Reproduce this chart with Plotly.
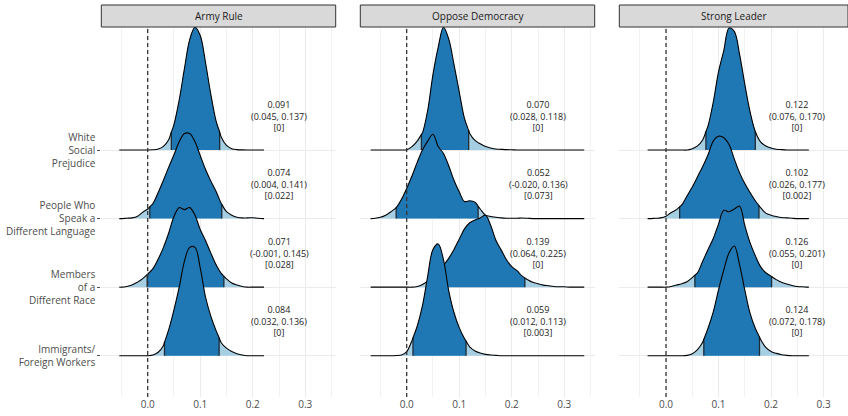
import numpy as np
import plotly.graph_objects as go

# ---------------- data ----------------
PANELS = ["Army Rule", "Oppose Democracy", "Strong Leader"]
CATEGORIES = ["White<br>Social<br>Prejudice",
              "People Who<br>Speak a<br>Different Language",
              "Members<br>of a<br>Different Race",
              "Immigrants/<br>Foreign Workers"]
ROW_POS = [3, 2, 1, 0]
X_TICKS = [0.0, 0.1, 0.2, 0.3]
X_TICK_LABELS = ["0.0", "0.1", "0.2", "0.3"]

# density grids (x) per panel
X_AR = [-0.054, -0.05, -0.04, -0.03, -0.02, -0.01, 0.00, 0.01, 0.02, 0.03, 0.04, 0.05,
        0.06, 0.07, 0.08, 0.09, 0.10, 0.11, 0.12, 0.13, 0.14, 0.15, 0.16, 0.17, 0.18,
        0.19, 0.20, 0.21, 0.22, 0.2215]
X_OD = [-0.0686, -0.06, -0.05, -0.04, -0.03, -0.02, -0.01, 0.00, 0.01, 0.02, 0.03, 0.04,
        0.05, 0.06, 0.07, 0.08, 0.09, 0.10, 0.11, 0.12, 0.13, 0.14, 0.15, 0.16, 0.17,
        0.18, 0.19, 0.20, 0.21, 0.22, 0.23, 0.24, 0.25, 0.26, 0.27, 0.28, 0.29, 0.30,
        0.31, 0.32, 0.33, 0.338]
X_SL = [-0.035, -0.03, -0.02, -0.01, 0.00, 0.01, 0.02, 0.03, 0.04, 0.05, 0.06, 0.07,
        0.08, 0.09, 0.10, 0.11, 0.12, 0.13, 0.14, 0.15, 0.16, 0.17, 0.18, 0.19, 0.20,
        0.21, 0.22, 0.23, 0.24, 0.25, 0.26, 0.27, 0.272]

# Army Rule densities (rows: White, Speak, Members, Immigrants)
AR_WHITE = [0, 0, 0, 0, 0, 0, 0, 0.003, 0.015, 0.054, 0.15, 0.37, 0.73, 1.19, 1.61, 1.79,
            1.67, 1.28, 0.82, 0.43, 0.19, 0.067, 0.02, 0.006, 0.002, 0, 0, 0, 0, 0]
AR_SPEAK = [0, 0, 0.005, 0.01, 0.03, 0.09, 0.14, 0.22, 0.38, 0.56, 0.75, 0.93, 1.12, 1.24,
            1.24, 1.12, 0.92, 0.72, 0.55, 0.40, 0.22, 0.10, 0.05, 0.02, 0.01, 0.01, 0.012,
            0.005, 0, 0]
AR_MEMBERS = [0, 0, 0.01, 0.03, 0.07, 0.12, 0.19, 0.27, 0.41, 0.58, 0.79, 1.03, 1.16, 1.13,
              1.16, 1.05, 0.84, 0.68, 0.50, 0.33, 0.20, 0.12, 0.06, 0.03, 0.01, 0, 0, 0, 0, 0]
AR_IMMIG = [0, 0, 0, 0, 0, 0, 0, 0.01, 0.05, 0.15, 0.38, 0.67, 1.00, 1.38, 1.58, 1.58, 1.28,
            0.86, 0.58, 0.37, 0.19, 0.11, 0.06, 0.03, 0.01, 0, 0, 0, 0, 0]

# Oppose Democracy densities
OD_WHITE = [0, 0, 0, 0, 0, 0, 0, 0.005, 0.05, 0.13, 0.25, 0.58, 1.10, 1.50, 1.79, 1.62,
            1.25, 0.85, 0.46, 0.24, 0.14, 0.09, 0.05, 0.03, 0.015, 0.01, 0.005, 0.003,
            0, 0, 0, 0, 0, 0, 0, 0, 0, 0, 0, 0, 0, 0]
OD_SPEAK = [0, 0.005, 0.02, 0.05, 0.10, 0.16, 0.28, 0.44, 0.62, 0.82, 1.00, 1.13, 1.23,
            1.05, 0.95, 0.77, 0.56, 0.39, 0.25, 0.26, 0.24, 0.14, 0.05, 0.03, 0.02, 0.01,
            0.005, 0.005, 0.005, 0.008, 0.005, 0, 0, 0, 0, 0, 0, 0, 0, 0, 0, 0]
OD_MEMBERS = [0, 0, 0, 0, 0, 0, 0, 0, 0, 0.01, 0.04, 0.09, 0.16, 0.24, 0.32, 0.42, 0.55,
              0.70, 0.85, 0.94, 0.98, 1.01, 1.05, 0.90, 0.68, 0.54, 0.40, 0.30, 0.24, 0.16,
              0.11, 0.07, 0.05, 0.03, 0.02, 0.01, 0.005, 0.005, 0, 0, 0, 0]
OD_IMMIG = [0, 0, 0, 0, 0, 0.003, 0.01, 0.06, 0.22, 0.43, 0.73, 1.16, 1.55, 1.63, 1.40,
            0.95, 0.63, 0.41, 0.25, 0.13, 0.07, 0.04, 0.02, 0.01, 0.005, 0, 0, 0, 0, 0,
            0, 0, 0, 0, 0, 0, 0, 0, 0, 0, 0, 0]

# Strong Leader densities
SL_WHITE = [0, 0, 0, 0, 0, 0, 0, 0, 0, 0.02, 0.06, 0.15, 0.35, 0.70, 1.14, 1.45, 1.78,
            1.73, 1.40, 0.96, 0.56, 0.27, 0.12, 0.06, 0.03, 0.012, 0.005, 0, 0, 0, 0, 0, 0]
SL_SPEAK = [0, 0, 0.005, 0.01, 0.035, 0.09, 0.13, 0.20, 0.33, 0.46, 0.61, 0.76, 0.93, 1.13,
            1.20, 1.18, 1.08, 0.87, 0.67, 0.51, 0.38, 0.26, 0.16, 0.08, 0.05, 0.03, 0.015,
            0.01, 0.005, 0, 0, 0, 0]
SL_MEMBERS = [0, 0, 0, 0, 0, 0.01, 0.03, 0.05, 0.08, 0.14, 0.21, 0.38, 0.55, 0.71, 0.92,
              1.12, 1.10, 1.14, 1.18, 0.90, 0.65, 0.46, 0.30, 0.21, 0.16, 0.11, 0.07, 0.045,
              0.025, 0.01, 0.005, 0, 0]
SL_IMMIG = [0, 0, 0, 0, 0, 0, 0, 0, 0.005, 0.03, 0.09, 0.20, 0.40, 0.64, 0.96, 1.25, 1.50,
            1.60, 1.33, 0.96, 0.62, 0.40, 0.24, 0.12, 0.06, 0.035, 0.015, 0.005, 0, 0, 0, 0, 0]

# estimates, 95% intervals, p-values
AR_EST = [0.091, 0.074, 0.071, 0.084]
AR_LO = [0.045, 0.004, -0.001, 0.032]
AR_HI = [0.137, 0.141, 0.145, 0.136]
AR_P = ["0", "0.022", "0.028", "0"]
OD_EST = [0.070, 0.052, 0.139, 0.059]
OD_LO = [0.028, -0.020, 0.064, 0.012]
OD_HI = [0.118, 0.136, 0.225, 0.113]
OD_P = ["0", "0.073", "0", "0.003"]
SL_EST = [0.122, 0.102, 0.126, 0.124]
SL_LO = [0.076, 0.026, 0.055, 0.072]
SL_HI = [0.170, 0.177, 0.201, 0.178]
SL_P = ["0", "0.002", "0", "0"]

# ---------------- style ----------------
W, H = 848, 416
LIGHT = "#a6cee3"
DARK = "#1f78b4"
FONT = "Open Sans"
Y_RANGE = [-0.602, 4.794]
Y_DOM = [19 / H, 389 / H]
X_DOMS = [[101.3 / W, 335.7 / W], [360.3 / W, 594.7 / W], [619.3 / W, 1.0]]
X_RANGES = [[-0.0883, 0.3579], [-0.0883, 0.3579], [-0.0889, 0.3465]]

panel_data = [
    (X_AR, [AR_WHITE, AR_SPEAK, AR_MEMBERS, AR_IMMIG], AR_EST, AR_LO, AR_HI, AR_P),
    (X_OD, [OD_WHITE, OD_SPEAK, OD_MEMBERS, OD_IMMIG], OD_EST, OD_LO, OD_HI, OD_P),
    (X_SL, [SL_WHITE, SL_SPEAK, SL_MEMBERS, SL_IMMIG], SL_EST, SL_LO, SL_HI, SL_P),
]

fig = go.Figure()


def add_ridge(xs, hs, base, lo, hi, xa, ya):
    xs = np.asarray(xs, float)
    hs = np.asarray(hs, float)
    h_lo = float(np.interp(lo, xs, hs))
    h_hi = float(np.interp(hi, xs, hs))
    xx, hh = list(xs), list(hs)
    for v, hv in ((lo, h_lo), (hi, h_hi)):
        if not np.any(np.isclose(xs, v, atol=1e-6)):
            xx.append(v)
            hh.append(hv)
    order = np.argsort(xx)
    xx = np.asarray(xx)[order]
    hh = np.asarray(hh)[order]
    yy = base + hh
    common = dict(xaxis=xa, yaxis=ya, showlegend=False, hoverinfo="skip")
    # light full area
    fig.add_trace(go.Scatter(x=[xx[0], xx[-1]], y=[base, base], mode="lines",
                             line=dict(width=0), **common))
    fig.add_trace(go.Scatter(x=xx, y=yy, mode="lines", fill="tonexty", fillcolor=LIGHT,
                             line=dict(width=0, shape="spline"), **common))
    # dark interval area
    m = (xx >= lo - 1e-9) & (xx <= hi + 1e-9)
    fig.add_trace(go.Scatter(x=[lo, hi], y=[base, base], mode="lines",
                             line=dict(width=0), **common))
    fig.add_trace(go.Scatter(x=xx[m], y=yy[m], mode="lines", fill="tonexty", fillcolor=DARK,
                             line=dict(width=0, shape="spline"), **common))
    # interval lines
    fig.add_trace(go.Scatter(x=[lo, lo, None, hi, hi],
                             y=[base, base + h_lo, None, base, base + h_hi],
                             mode="lines", line=dict(color="#1d2b36", width=1.3), **common))
    # outline
    fig.add_trace(go.Scatter(x=xx, y=yy, mode="lines",
                             line=dict(color="black", width=1.1, shape="spline"), **common))


annotations = []
shapes = []
for p, (xs, dens, est, los, his, ps) in enumerate(panel_data):
    xa = "x" if p == 0 else f"x{p + 1}"
    ya = "y" if p == 0 else f"y{p + 1}"
    for r in range(4):
        add_ridge(xs, dens[r], ROW_POS[r], los[r], his[r], xa, ya)
        annotations.append(dict(
            x=0.25, y=ROW_POS[r] + 0.5, xref=xa, yref=ya, showarrow=False,
            text=f"{est[r]:.3f}<br>({los[r]:.3f}, {his[r]:.3f})<br>[{ps[r]}]",
            font=dict(family=FONT, size=9, color="#222222"), align="center"))
    # zero reference line
    shapes.append(dict(type="line", xref=xa, yref=f"{ya} domain", x0=0, x1=0, y0=0, y1=1,
                       line=dict(color="#333333", width=1.3, dash="4px,3px"), layer="above"))
    # strip
    shapes.append(dict(type="rect", xref="paper", yref="paper",
                       x0=X_DOMS[p][0], x1=X_DOMS[p][1], y0=(H - 27) / H, y1=(H - 5) / H,
                       fillcolor="#d9d9d9", line=dict(color="#333333", width=1), layer="above"))
    annotations.append(dict(x=(X_DOMS[p][0] + X_DOMS[p][1]) / 2, y=(H - 16) / H,
                            xref="paper", yref="paper", showarrow=False, text=PANELS[p],
                            font=dict(family=FONT, size=10, color="#1a1a1a"),
                            xanchor="center", yanchor="middle"))

layout = dict(
    width=W, height=H, margin=dict(l=0, r=0, t=0, b=0),
    paper_bgcolor="white", plot_bgcolor="white",
    font=dict(family=FONT, size=10, color="#4d4d4d"),
    shapes=shapes, annotations=annotations, showlegend=False,
)
for p in range(3):
    xk = "xaxis" if p == 0 else f"xaxis{p + 1}"
    yk = "yaxis" if p == 0 else f"yaxis{p + 1}"
    ya = "y" if p == 0 else f"y{p + 1}"
    xa = "x" if p == 0 else f"x{p + 1}"
    layout[xk] = dict(domain=X_DOMS[p], range=X_RANGES[p], anchor=ya,
                      tickmode="array", tickvals=X_TICKS, ticktext=X_TICK_LABELS,
                      showgrid=True, gridcolor="#ebebeb", gridwidth=1,
                      minor=dict(tick0=0.05, dtick=0.1, showgrid=True,
                                 gridcolor="#f2f2f2", gridwidth=1),
                      zeroline=False, showline=False, ticks="",
                      tickfont=dict(family=FONT, size=10, color="#4d4d4d"))
    layout[yk] = dict(domain=Y_DOM, range=Y_RANGE, anchor=xa,
                      tickmode="array", tickvals=ROW_POS, ticktext=CATEGORIES,
                      showticklabels=(p == 0), ticks="outside" if p == 0 else "",
                      ticklen=3, tickcolor="#4d4d4d", tickwidth=1,
                      showgrid=True, gridcolor="#ebebeb", gridwidth=1,
                      zeroline=False, showline=False,
                      tickfont=dict(family=FONT, size=10, color="#4d4d4d"))

fig.update_layout(**layout)
fig.write_html("out.html", config={"displayModeBar": False},
               post_script="document.body.style.margin='0';document.body.style.padding='0';")
